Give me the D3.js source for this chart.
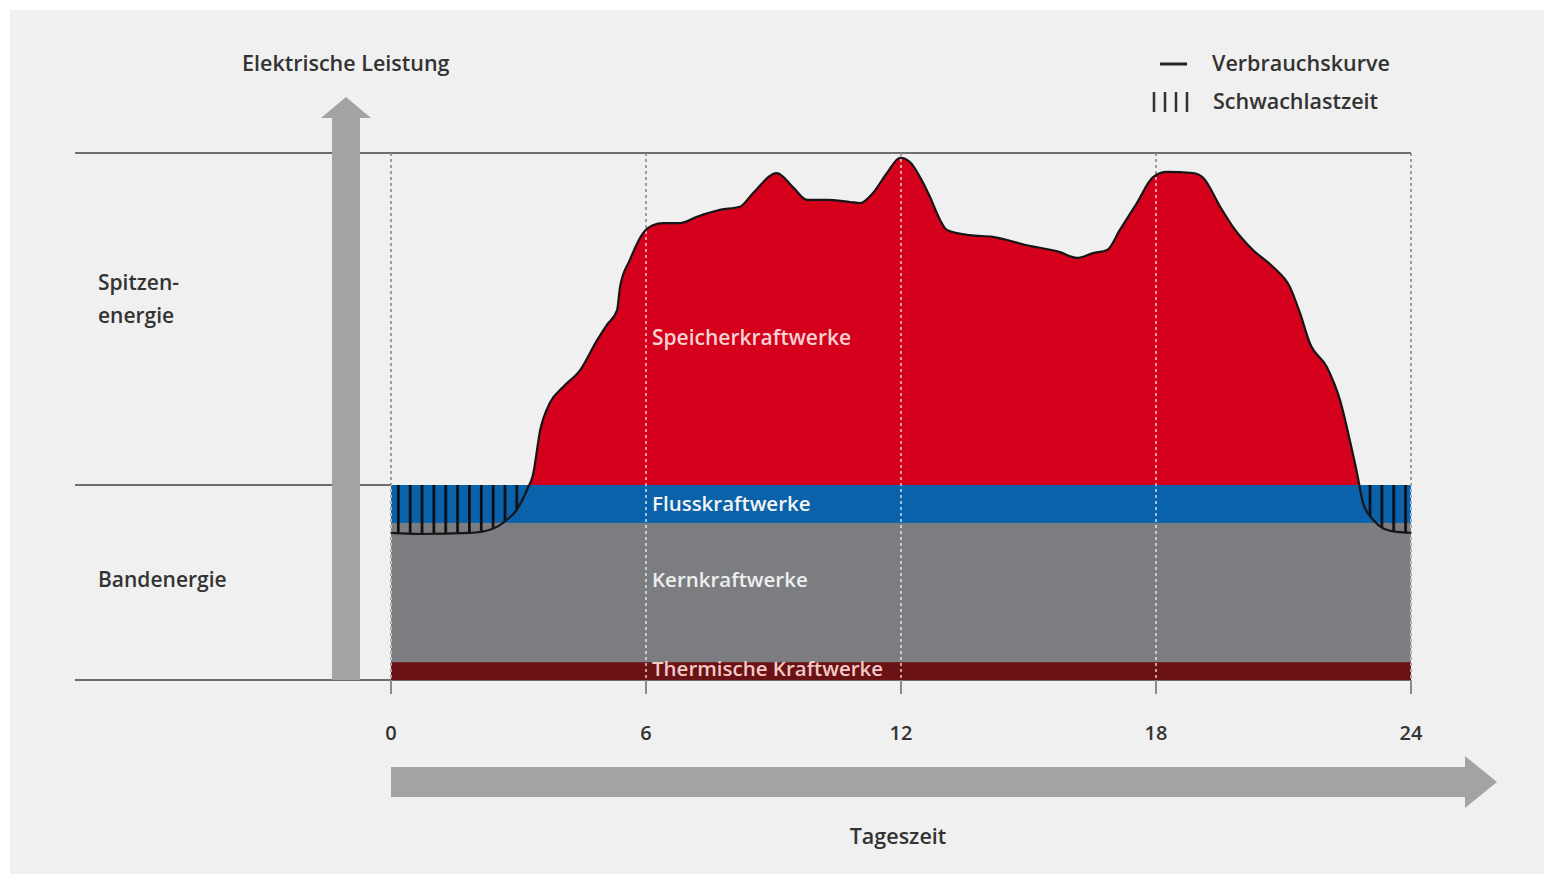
<!DOCTYPE html>
<html>
<head>
<meta charset="utf-8">
<script src="https://cdn.jsdelivr.net/npm/d3@7"></script>
<style>
  html, body { margin: 0; padding: 0; background: #ffffff; }
  svg { display: block; }
  text { font-family: "Open Sans", "Lato", sans-serif; font-weight: 600; }
</style>
</head>
<body>
<svg id="chart" width="1544" height="874"></svg>
<script>
// ---- data ----
const hours = [0, 0.68, 1.86, 2.33, 2.73, 2.96, 3.2, 3.34, 3.51, 3.74, 4.05, 4.45, 4.85, 5.08, 5.32, 5.39, 5.62, 5.93, 6.16, 6.4, 6.8, 7.2, 7.74, 8.21, 8.52, 9.08, 9.46, 9.79, 10.26, 10.8, 11.04, 11.34, 11.67, 11.98, 12.21, 12.45, 12.68, 12.92, 13.08, 13.62, 14.16, 14.96, 15.74, 16.14, 16.52, 16.85, 17.15, 17.55, 17.93, 18.26, 18.87, 19.11, 19.51, 19.81, 20.28, 20.75, 21.15, 21.39, 21.62, 22.02, 22.33, 22.56, 22.73, 22.87, 23.11, 23.34, 23.67, 24];
const load  = [27.9, 27.7, 27.9, 28.5, 30.4, 32.3, 36.1, 38.9, 47.4, 52.6, 55.6, 58.8, 64.5, 67.4, 70.2, 74.6, 79.7, 84.8, 86.3, 86.7, 86.7, 87.9, 89.2, 89.8, 92.4, 96.2, 93.5, 91.1, 91.1, 90.7, 90.5, 92.4, 96.2, 99.1, 98.3, 95.4, 91.7, 87.3, 85.4, 84.4, 84.1, 82.5, 81.2, 80.1, 81.0, 81.6, 85.4, 90.5, 95.4, 96.4, 96.2, 95.3, 89.8, 86.0, 81.6, 78.4, 74.6, 69.6, 63.9, 59.4, 53.1, 45.5, 39.3, 33.6, 30.4, 28.8, 28.1, 27.9];

const bandNames  = ["Thermische Kraftwerke", "Kernkraftwerke", "Flusskraftwerke"];
const bandFrom   = [0, 3.4, 29.8];
const bandTo     = [3.4, 29.8, 37.0];
const bandColors = ["#6a1214", "#7b7d80", "#0a62aa"];
const bandLabelColors = ["#f2c9c9", "#eeeeee", "#f4f4f4"];
const peakName = "Speicherkraftwerke";
const peakColor = "#d5001b";

const xTicks = [0, 6, 12, 18, 24];
const zoneLevels = [100, 37.0, 0];

const pts = hours.map((h, i) => ({h, v: load[i]}));

// ---- scales ----
const svg = d3.select("#chart");
const x = d3.scaleLinear().domain([0, 24]).range([391, 1411]);
const y = d3.scaleLinear().domain([0, 100]).range([680, 153]);
const base = bandTo[2];

// background panel
svg.append("rect").attr("x", 10).attr("y", 10).attr("width", 1534).attr("height", 864).attr("fill", "#f0f0f0");

const defs = svg.append("defs");
const pat = defs.append("pattern").attr("id", "hatch").attr("patternUnits", "userSpaceOnUse")
  .attr("x", 392).attr("y", 0).attr("width", 11.85).attr("height", 10);
pat.append("rect").attr("x", 5).attr("y", 0).attr("width", 2.6).attr("height", 10).attr("fill", "#0a0a0a");

defs.append("clipPath").attr("id", "clipAbove").append("rect")
  .attr("x", 0).attr("y", 0).attr("width", 1544).attr("height", y(base));
defs.append("clipPath").attr("id", "clipBelow").append("rect")
  .attr("x", 0).attr("y", y(base)).attr("width", 1544).attr("height", 874 - y(base));

const areaGen = d3.area().x(d => x(d.h)).y0(y(base)).y1(d => y(d.v)).curve(d3.curveMonotoneX);
const fillArea = d3.area().x(d => x(d.h)).y0(y(0)).y1(d => y(Math.max(d.v, base))).curve(d3.curveMonotoneX);
const lineGen = d3.line().x(d => x(d.h)).y(d => y(d.v)).curve(d3.curveMonotoneX);

const fillClip = defs.append("clipPath").attr("id", "clipFill");
fillClip.append("path").attr("d", fillArea(pts));

// zone lines
svg.append("line").attr("x1", 75).attr("x2", x(24)).attr("y1", y(zoneLevels[0])).attr("y2", y(zoneLevels[0]))
  .attr("stroke", "#6e6e6e").attr("stroke-width", 2);
svg.append("line").attr("x1", 75).attr("x2", x(0)).attr("y1", y(zoneLevels[1])).attr("y2", y(zoneLevels[1]))
  .attr("stroke", "#6e6e6e").attr("stroke-width", 2);
svg.append("line").attr("x1", 75).attr("x2", x(24)).attr("y1", y(zoneLevels[2])).attr("y2", y(zoneLevels[2]))
  .attr("stroke", "#6e6e6e").attr("stroke-width", 2);

// grey dashed verticals
svg.append("g").selectAll("line").data(xTicks).join("line")
  .attr("x1", d => x(d)).attr("x2", d => x(d)).attr("y1", y(100)).attr("y2", 694)
  .attr("stroke", "#8a8a8a").attr("stroke-width", 1.6).attr("stroke-dasharray", "3,3");
// bottom ticks
svg.append("g").selectAll("line").data(xTicks).join("line")
  .attr("x1", d => x(d)).attr("x2", d => x(d)).attr("y1", y(0)).attr("y2", 694)
  .attr("stroke", "#8a8a8a").attr("stroke-width", 2);

// bands
svg.append("g").selectAll("rect").data(bandNames).join("rect")
  .attr("x", x(0)).attr("width", x(24) - x(0))
  .attr("y", (d, i) => y(bandTo[i])).attr("height", (d, i) => y(bandFrom[i]) - y(bandTo[i]))
  .attr("fill", (d, i) => bandColors[i]);

// peak area
svg.append("path").attr("d", areaGen(pts)).attr("fill", peakColor).attr("clip-path", "url(#clipAbove)");
// hatched low-load
svg.append("path").attr("d", areaGen(pts)).attr("fill", "url(#hatch)").attr("clip-path", "url(#clipBelow)");

// white dashed verticals inside fills
svg.append("g").attr("clip-path", "url(#clipFill)").selectAll("line").data(xTicks).join("line")
  .attr("x1", d => x(d)).attr("x2", d => x(d)).attr("y1", y(100)).attr("y2", y(0))
  .attr("stroke", "#ffffff").attr("stroke-opacity", 0.75).attr("stroke-width", 1.6).attr("stroke-dasharray", "3,3");

// consumption curve
svg.append("path").attr("d", lineGen(pts)).attr("fill", "none").attr("stroke", "#161616").attr("stroke-width", 2.2);

// labels inside
const lblX = x(6) + 6;
svg.append("text").attr("x", lblX).attr("y", 338).attr("dy", "0.35em").attr("font-size", 21)
  .attr("fill", "#f6d2d2").text(peakName);
const bandLabelY = [669, 580, 504];
svg.append("g").selectAll("text").data(bandNames).join("text")
  .attr("x", lblX).attr("y", (d, i) => bandLabelY[i]).attr("dy", "0.35em").attr("font-size", 20.5)
  .attr("fill", (d, i) => bandLabelColors[i]).text(d => d);

// y arrow
const ya = d3.path();
ya.moveTo(332, 680); ya.lineTo(332, 118); ya.lineTo(321, 118); ya.lineTo(346, 97);
ya.lineTo(371, 118); ya.lineTo(360, 118); ya.lineTo(360, 680); ya.closePath();
svg.append("path").attr("d", ya.toString()).attr("fill", "#a3a3a3");

// x arrow
const xa = d3.path();
xa.moveTo(x(0), 767); xa.lineTo(1465, 767); xa.lineTo(1465, 756); xa.lineTo(1497, 782);
xa.lineTo(1465, 808); xa.lineTo(1465, 797); xa.lineTo(x(0), 797); xa.closePath();
svg.append("path").attr("d", xa.toString()).attr("fill", "#a3a3a3");

// tick labels
svg.append("g").selectAll("text").data(xTicks).join("text")
  .attr("x", d => x(d)).attr("y", 733).attr("dy", "0.35em").attr("text-anchor", "middle")
  .attr("font-size", 20).attr("fill", "#333").text(d => d);

// titles
const tc = "#333333";
svg.append("text").attr("x", 242).attr("y", 63).attr("dy", "0.35em").attr("font-size", 21.5).attr("fill", tc).text("Elektrische Leistung");
svg.append("text").attr("x", 898).attr("y", 836).attr("dy", "0.35em").attr("text-anchor", "middle").attr("font-size", 21.5).attr("fill", tc).text("Tageszeit");
svg.append("text").attr("x", 98).attr("y", 283).attr("dy", "0.35em").attr("font-size", 21).attr("fill", tc).text("Spitzen-");
svg.append("text").attr("x", 98).attr("y", 316).attr("dy", "0.35em").attr("font-size", 21).attr("fill", tc).text("energie");
svg.append("text").attr("x", 98).attr("y", 580).attr("dy", "0.35em").attr("font-size", 21).attr("fill", tc).text("Bandenergie");

// legend
svg.append("line").attr("x1", 1160).attr("x2", 1187).attr("y1", 64).attr("y2", 64).attr("stroke", "#222").attr("stroke-width", 3);
svg.append("text").attr("x", 1212).attr("y", 63).attr("dy", "0.35em").attr("font-size", 21.5).attr("fill", tc).text("Verbrauchskurve");
svg.append("g").selectAll("line").data([0, 1, 2, 3]).join("line")
  .attr("x1", d => 1154 + d * 11).attr("x2", d => 1154 + d * 11).attr("y1", 92).attr("y2", 112)
  .attr("stroke", "#333").attr("stroke-width", 2.5);
svg.append("text").attr("x", 1213).attr("y", 101).attr("dy", "0.35em").attr("font-size", 21.5).attr("fill", tc).text("Schwachlastzeit");
</script>
</body>
</html>
